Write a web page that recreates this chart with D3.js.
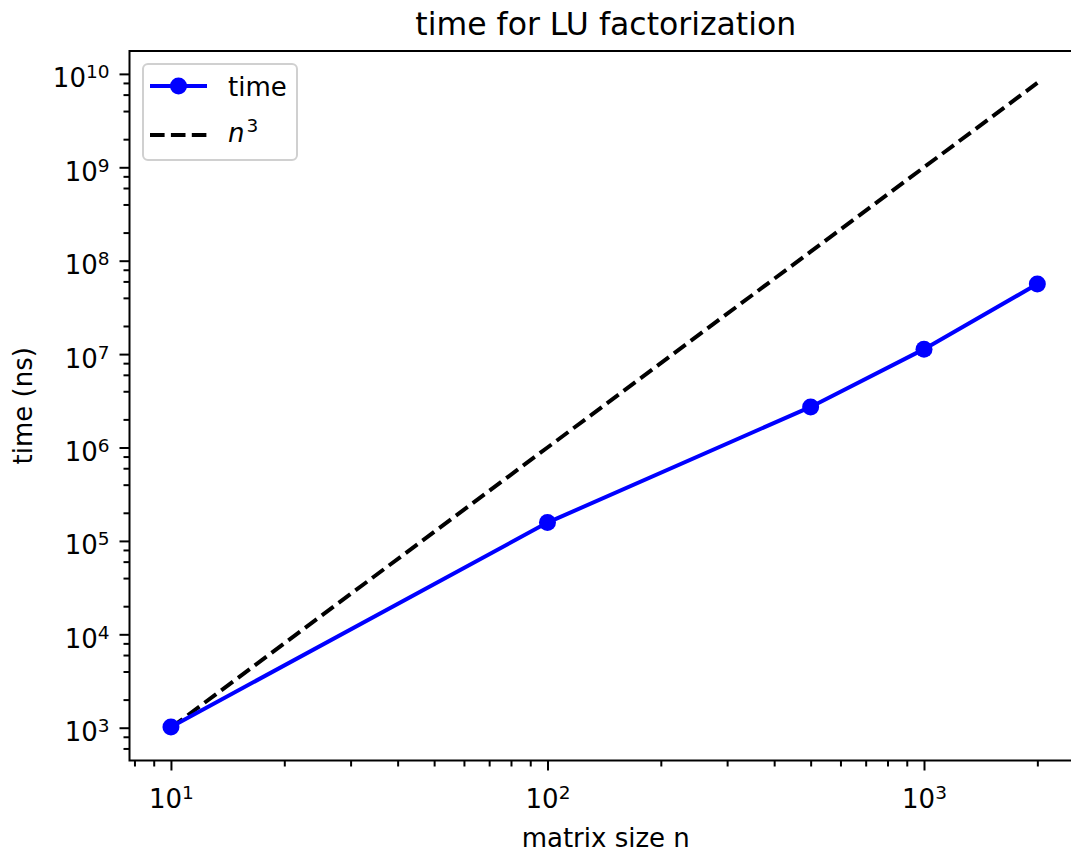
<!DOCTYPE html>
<html>
<head>
<meta charset="utf-8">
<script src="https://cdn.jsdelivr.net/npm/d3@7"></script>
<style>
    body { margin: 0; background: #fff; }
    text { font-family: "DejaVu Sans", sans-serif; fill: #000; }
</style>
</head>
<body>
<div id="chart"></div>
<script>
// data
var sizes = [10, 100, 500, 1000, 2000]
var times = [1.02e3, 1.57e5, 2.72e6, 1.13e7, 5.62e7]
var cubes = [1e3, 1e6, 1.25e8, 1e9, 8e9]

// ticks
var xMajor = [10, 100, 1000]
var xMinorSubs = [2, 3, 4, 5, 6, 7, 8, 9]
var yMajor = [1e3, 1e4, 1e5, 1e6, 1e7, 1e8, 1e9, 1e10]
var yMinorSubs = [2, 4, 6, 8]

// set dimensions
var W = 1071
var H = 854
var plot = { left: 129.5, top: 51, right: 1082, bottom: 760.5 }

var x = d3.scaleLog()
    .domain([7.761, 2628])
    .range([plot.left, plot.right])
var y = d3.scaleLog()
    .domain([445.7, 1.758e10])
    .range([plot.bottom, plot.top])

var svg = d3.select('#chart')
    .append('svg')
    .attr('width', W)
    .attr('height', H)

// minor tick positions inside the domain
function minors(subs, domain) {
    var out = []
    var lo = Math.floor(Math.log10(domain[0]))
    var hi = Math.ceil(Math.log10(domain[1]))
    for (var k = lo; k <= hi; k++) {
        subs.forEach(function (s) {
            var v = s * Math.pow(10, k)
            if (v >= domain[0] && v <= domain[1]) out.push(v)
        })
    }
    return out
}

// write 10^k as text with a superscript
function powLabel(sel) {
    sel.each(function (d) {
        var t = d3.select(this)
        t.text(null)
        t.append('tspan').text('10')
        t.append('tspan')
            .attr('dy', -9)
            .style('font-size', '18.5px')
            .text(Math.round(Math.log10(d)))
    })
}

// x axis
var gxMinor = svg.append('g')
    .attr('transform', 'translate(0,' + plot.bottom + ')')
    .call(d3.axisBottom(x).tickValues(minors(xMinorSubs, x.domain())).tickSize(6).tickFormat(''))
var gx = svg.append('g')
    .attr('transform', 'translate(0,' + plot.bottom + ')')
    .call(d3.axisBottom(x).tickValues(xMajor).tickSize(10).tickFormat(''))
gx.selectAll('.tick text')
    .attr('y', 47.5)
    .attr('dy', null)
    .style('font-size', '26px')
    .call(powLabel)

// y axis
var gyMinor = svg.append('g')
    .attr('transform', 'translate(' + plot.left + ',0)')
    .call(d3.axisLeft(y).tickValues(minors(yMinorSubs, y.domain())).tickSize(6).tickFormat(''))
var gy = svg.append('g')
    .attr('transform', 'translate(' + plot.left + ',0)')
    .call(d3.axisLeft(y).tickValues(yMajor).tickSize(10).tickFormat(''))
gy.selectAll('.tick text')
    .attr('x', -20)
    .attr('y', 13)
    .attr('dy', null)
    .style('font-size', '26px')
    .call(powLabel)

svg.selectAll('.domain').remove()
svg.selectAll('.tick line')
    .style('stroke', '#000')
    .style('stroke-width', 2)

// lines
var line = d3.line()
    .x(function (d) { return x(d[0]) })
    .y(function (d) { return y(d[1]) })

svg.append('path')
    .datum(d3.zip(sizes, cubes))
    .attr('d', line)
    .style('fill', 'none')
    .style('stroke', '#000')
    .style('stroke-width', 4)
    .style('stroke-dasharray', '14.6,6.3')

svg.append('path')
    .datum(d3.zip(sizes, times))
    .attr('d', line)
    .style('fill', 'none')
    .style('stroke', '#0000ff')
    .style('stroke-width', 4)

svg.selectAll('circle.pt')
    .data(d3.zip(sizes, times))
    .enter().append('circle')
    .attr('class', 'pt')
    .attr('cx', function (d) { return x(d[0]) })
    .attr('cy', function (d) { return y(d[1]) })
    .attr('r', 8.5)
    .style('fill', '#0000ff')

// frame
svg.append('rect')
    .attr('x', plot.left)
    .attr('y', plot.top)
    .attr('width', plot.right - plot.left)
    .attr('height', plot.bottom - plot.top)
    .style('fill', 'none')
    .style('stroke', '#000')
    .style('stroke-width', 2)

// title and axis labels
var cx = (plot.left + plot.right) / 2
svg.append('text')
    .attr('x', cx)
    .attr('y', 35)
    .attr('text-anchor', 'middle')
    .style('font-size', '31.5px')
    .text('time for LU factorization')
svg.append('text')
    .attr('x', cx)
    .attr('y', 847)
    .attr('text-anchor', 'middle')
    .style('font-size', '26px')
    .text('matrix size n')
svg.append('text')
    .attr('transform', 'translate(32,' + (plot.top + plot.bottom) / 2 + ') rotate(-90)')
    .attr('text-anchor', 'middle')
    .style('font-size', '26px')
    .text('time (ns)')

// legend
var lg = svg.append('g')
lg.append('rect')
    .attr('x', 143)
    .attr('y', 64)
    .attr('width', 154)
    .attr('height', 96)
    .attr('rx', 5)
    .style('fill', '#fff')
    .style('fill-opacity', 0.8)
    .style('stroke', '#d0d0d0')
    .style('stroke-width', 2)
lg.append('line')
    .attr('x1', 150).attr('x2', 207)
    .attr('y1', 86).attr('y2', 86)
    .style('stroke', '#0000ff')
    .style('stroke-width', 4)
lg.append('circle')
    .attr('cx', 178.5)
    .attr('cy', 86)
    .attr('r', 8.5)
    .style('fill', '#0000ff')
lg.append('text')
    .attr('x', 228)
    .attr('y', 96)
    .style('font-size', '26px')
    .text('time')
lg.append('line')
    .attr('x1', 150).attr('x2', 207)
    .attr('y1', 135).attr('y2', 135)
    .style('stroke', '#000')
    .style('stroke-width', 4)
    .style('stroke-dasharray', '14.6,6.3')
var nt = lg.append('text')
    .attr('x', 228)
    .attr('y', 142)
    .style('font-size', '26px')
nt.append('tspan')
    .style('font-style', 'italic')
    .text('n')
nt.append('tspan')
    .attr('dx', 2)
    .attr('dy', -10)
    .style('font-size', '18.5px')
    .text('3')
</script>
</body>
</html>
